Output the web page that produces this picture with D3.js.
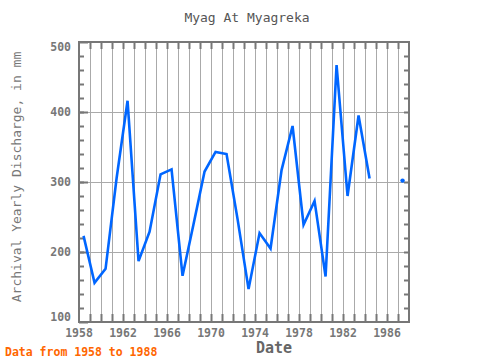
<!DOCTYPE html>
<html><head><meta charset="utf-8">
<script src="https://cdnjs.cloudflare.com/ajax/libs/d3/7.8.5/d3.min.js"></script>
<style>body{margin:0;background:#fff}svg{display:block}</style>
</head><body>
<script>
const years = [1958,1959,1960,1961,1962,1963,1964,1965,1966,1967,1968,1969,1970,1971,1972,1973,1974,1975,1976,1977,1978,1979,1980,1981,1982,1983,1984,1985,1986,1987];
const discharge = [223,156,176,305,416,187,229,311,318,166,240,315,343,340,247,147,227,205,317,380,239,273,165,467,280,395,305,null,null,302];
const yTicks = [100,200,300,400,500];
const xTickYears = [1958,1962,1966,1970,1974,1978,1982,1986];
const title = "Myag At Myagreka";
const yLabel = "Archival Yearly Discharge, in mm";
const xLabel = "Date";
const note = "Data from 1958 to 1988";

const W = 480, H = 360;
const m = {left:79, right:409, top:42, bottom:322};
const svg = d3.select("body").append("svg").attr("width",W).attr("height",H);
const mono = "'DejaVu Sans Mono', monospace";

const x = d3.scaleTime().domain([new Date(1958,0,1), new Date(1988,0,1)]).range([m.left,m.right]);
const y = d3.scaleLinear().domain([100,500]).range([m.bottom,m.top]);

const data = years.map((yr,i)=>({d:new Date(yr,5,1), v:discharge[i]}));

// vertical gridlines every year
const yearTicks = d3.range(1959,1988).map(yr=>new Date(yr,0,1));
svg.append("g").selectAll("line").data(yearTicks).join("line")
  .attr("x1",d=>Math.round(x(d))+0.5).attr("x2",d=>Math.round(x(d))+0.5)
  .attr("y1",m.top).attr("y2",m.bottom)
  .attr("stroke","#aaa").attr("stroke-width",1);
// horizontal gridlines
svg.append("g").selectAll("line").data(yTicks.filter(t=>t>100&&t<500)).join("line")
  .attr("x1",m.left).attr("x2",m.right)
  .attr("y1",d=>Math.round(y(d))+0.5).attr("y2",d=>Math.round(y(d))+0.5)
  .attr("stroke","#aaa").attr("stroke-width",1);

// ticks
const tickCol = "#777";
const axisTop = d3.axisTop(x).tickValues(yearTicks).tickSize(-7).tickFormat("");
const axisBot = d3.axisBottom(x).tickValues(yearTicks).tickSize(-8).tickFormat("");
[ [axisTop,m.top], [axisBot,m.bottom] ].forEach(([ax,ty])=>{
  const g = svg.append("g").attr("transform",`translate(0,${ty})`).call(ax);
  g.select(".domain").remove();
  g.selectAll("line").attr("stroke",tickCol).attr("stroke-width",2);
});
const minorY = d3.range(120,500,20);
const axL = d3.axisLeft(y).tickValues(minorY).tickSize(-5).tickFormat("");
const axR = d3.axisRight(y).tickValues(minorY).tickSize(-5).tickFormat("");
[[axL,m.left],[axR,m.right]].forEach(([ax,tx])=>{
  const g = svg.append("g").attr("transform",`translate(${tx},0)`).call(ax);
  g.select(".domain").remove();
  g.selectAll("line").attr("stroke",tickCol).attr("stroke-width",2);
});
const axLMaj = d3.axisLeft(y).tickValues(yTicks).tickSize(-9).tickFormat("");
const gM = svg.append("g").attr("transform",`translate(${m.left},0)`).call(axLMaj);
gM.select(".domain").remove();
gM.selectAll("line").attr("stroke",tickCol).attr("stroke-width",2);

// frame
svg.append("rect").attr("x",m.left).attr("y",m.top)
  .attr("width",m.right-m.left).attr("height",m.bottom-m.top)
  .attr("fill","none").attr("stroke",tickCol).attr("stroke-width",2);

// tick labels (end labels kept inside the plot's vertical extent)
const yLo = d3.min(yTicks), yHi = d3.max(yTicks);
svg.append("g").selectAll("text").data(yTicks).join("text")
  .attr("x",71).attr("y",d=>y(d)+4 + (d===yHi?5:0) - (d===yLo?5:0)).attr("text-anchor","end")
  .attr("font-family",mono).attr("font-size","11.5px").attr("font-weight","bold")
  .attr("fill","#777").text(d=>d);
svg.append("g").selectAll("text").data(xTickYears).join("text")
  .attr("x",d=>x(new Date(d,0,1))).attr("y",337).attr("text-anchor","middle")
  .attr("font-family",mono).attr("font-size","11.5px").attr("font-weight","bold")
  .attr("fill","#777").text(d=>d);

// data line
const line = d3.line().defined(d=>d.v!=null).x(d=>x(d.d)).y(d=>y(d.v));
svg.append("path").datum(data).attr("d",line)
  .attr("fill","none").attr("stroke","#0066ff").attr("stroke-width",2.6)
  .attr("stroke-linejoin","miter");
// isolated points
const iso = data.filter((d,i)=>d.v!=null && (i===0||data[i-1].v==null) && (i===data.length-1||data[i+1].v==null));
svg.append("g").selectAll("circle").data(iso).join("circle")
  .attr("cx",d=>x(d.d)).attr("cy",d=>y(d.v)).attr("r",2.2).attr("fill","#0066ff");

// texts
svg.append("text").attr("x",247).attr("y",22).attr("text-anchor","middle")
  .attr("font-family",mono).attr("font-size","13px").attr("fill","#555").text(title);
svg.append("text").attr("transform","translate(21,177) rotate(-90)").attr("text-anchor","middle")
  .attr("font-family",mono).attr("font-size","13px").attr("fill","#777").text(yLabel);
svg.append("text").attr("x",274).attr("y",353).attr("text-anchor","middle")
  .attr("font-family",mono).attr("font-size","15px").attr("font-weight","bold").attr("fill","#666").text(xLabel);
svg.append("text").attr("x",5).attr("y",356)
  .attr("font-family",mono).attr("font-size","11.5px").attr("font-weight","bold").attr("fill","#ff6600").text(note);
</script>
</body></html>
